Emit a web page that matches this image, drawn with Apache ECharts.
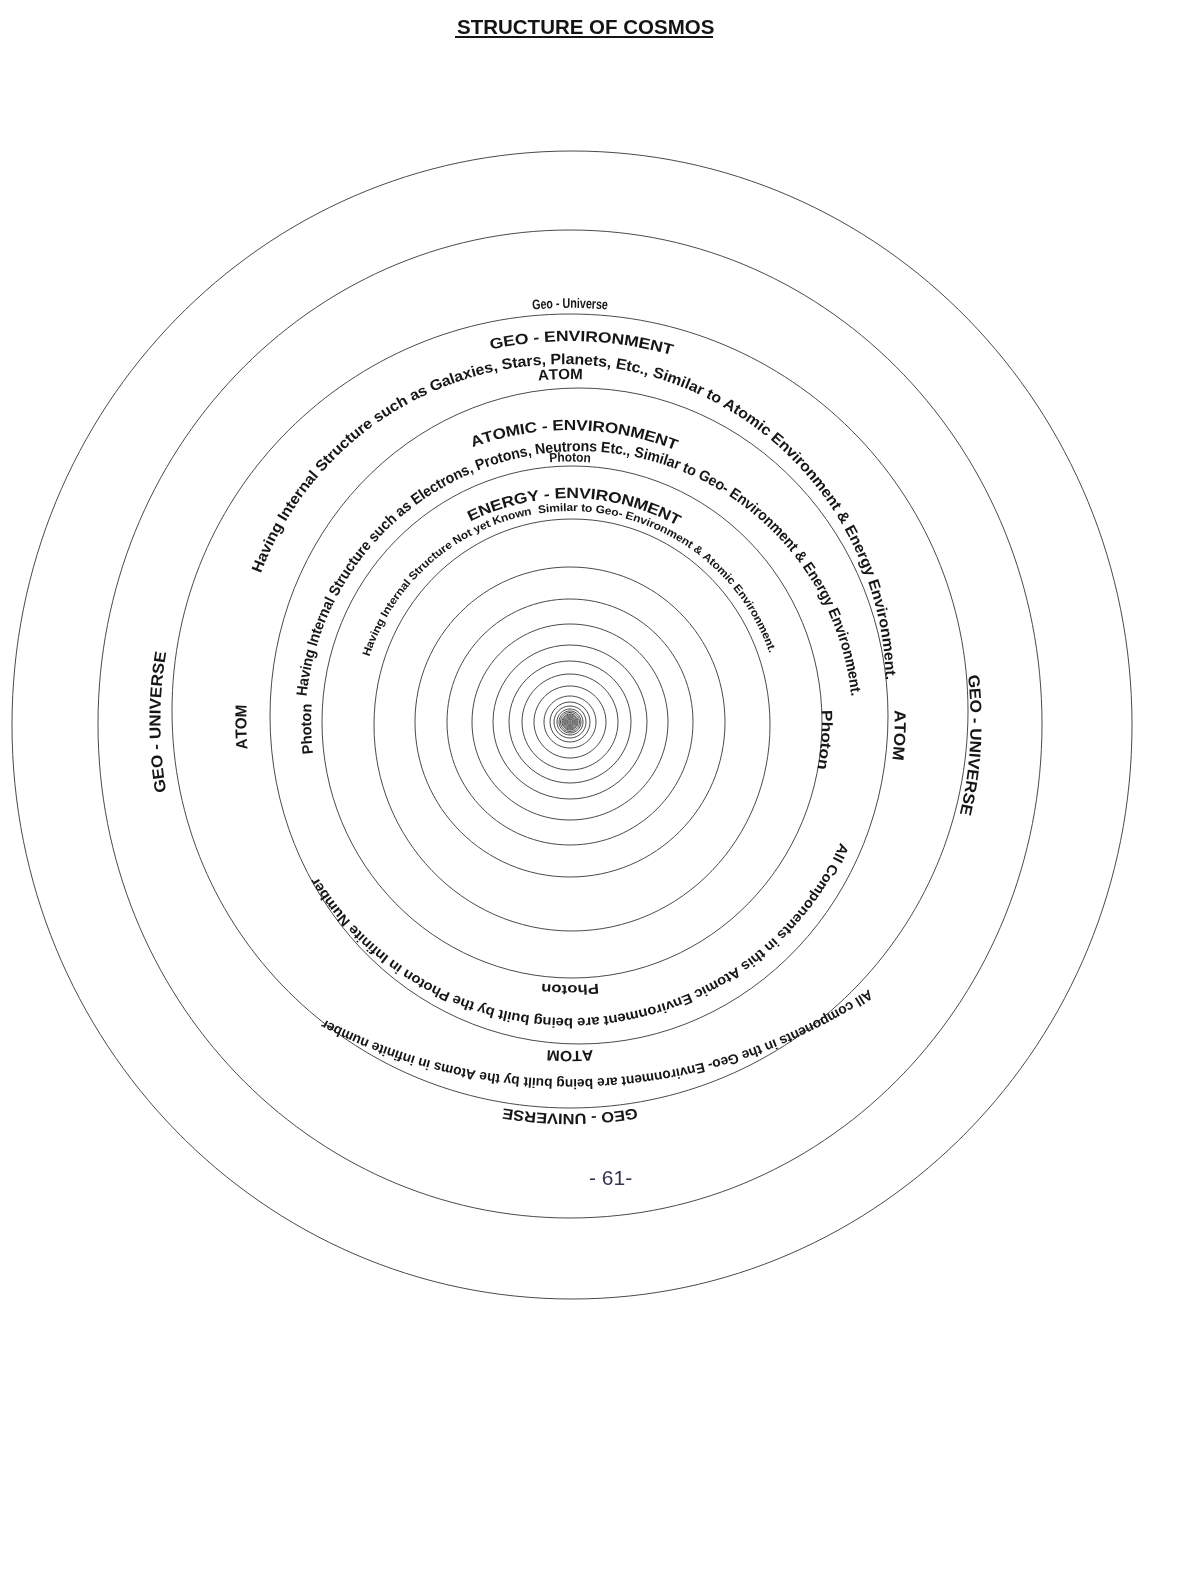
<!DOCTYPE html>
<html><head><meta charset="utf-8">
<script src="https://cdn.jsdelivr.net/npm/echarts@6/dist/echarts.min.js"></script>
<style>html,body{margin:0;padding:0;background:#fff}#c{width:1185px;height:1578px}</style>
</head><body><div id="c"></div>
<script>
// ---------- DATA ----------
// Rings (outer -> inner): radii and small centre offsets, in page pixels relative to the centre
const ringRx = [560, 472, 398, 309, 250, 198, 155, 123, 98, 77, 61, 48, 36, 26, 20, 16, 13, 11, 9.5, 8, 7, 6, 5, 4, 3, 2, 1];
const ringRy = [574, 494, 397, 328, 256, 206, 155, 123, 98, 77, 61, 48, 36, 26, 20, 16, 13, 11, 9.5, 8, 7, 6, 5, 4, 3, 2, 1];
const ringOx = [2, 0, 0, 9, 2, 2, 0, 0, 0, 0, 0, 0, 0, 0, 0, 0, 0, 0, 0, 0, 0, 0, 0, 0, 0, 0, 0];
const ringOy = [3, 2, -11, -6, 0, 3, 0, 0, 0, 0, 0, 0, 0, 0, 0, 0, 0, 0, 0, 0, 0, 0, 0, 0, 0, 0, 0];

// Curved labels: text, radius, start/end angle (deg, clockwise from top), arc-centre offset
const labelTexts = [
  "Geo - Universe",
  "GEO - ENVIRONMENT",
  "Having Internal Structure such as Galaxies, Stars, Planets, Etc., Similar to Atomic Environment & Energy Environment.",
  "ATOM",
  "ATOMIC - ENVIRONMENT",
  "Having Internal Structure such as Electrons, Protons, Neutrons Etc., Similar to Geo- Environment & Energy Environment.",
  "Photon",
  "ENERGY - ENVIRONMENT",
  "Having Internal Structure Not yet Known  Similar to Geo- Environment & Atomic Environment.",
  "GEO - UNIVERSE",
  "GEO - UNIVERSE",
  "GEO - UNIVERSE",
  "ATOM",
  "ATOM",
  "ATOM",
  "Photon",
  "Photon",
  "Photon",
  "All Components in this Atomic Environment are being built by the Photon in Infinite Number",
  "All components in the Geo- Environment are being built by the Atoms in infinite number"
];
const labelR  = [418, 385, 327, 347, 292, 278, 264, 228, 214, 414, 405, 396, 328, 329, 333, 263, 256, 267, 300, 542];
const labelA0 = [-5.2, -12, -69.4, -5.3, -19.8, -84, -4.5, -26.4, -72, -99.8, 83.3, 170.2, -94.8, 87.9, 176, -97, 87.3, 173.8, 114, 146.4];
const labelA1 = [5.2, 15.5, 88.8, 2.1, 21.5, 84, 4.5, 28.7, 71, -80.2, 103.3, 189.8, -87, 96.7, 184, -86, 100.7, 186.2, 238.5, 207.3];
const labelOx = [0, 0, -7, 0, 0, 9, 0, 0, 0, 0, 0, 0, 0, 0, 0, 0, 0, 0, 0, 1];
const labelOy = [0, 0, -35, 0, -4, 3, 0, 0, 0, 0, 0, 0, 0, 0, 0, 0, 0, 0, 0, -181];
const labelSize = [14, 15, 15, 15, 15, 15, 13, 15, 11, 16, 16, 15, 16, 16, 15, 15, 15, 14, 14, 14];

const titleText = "STRUCTURE OF COSMOS";
const pageText = "- 61-";

// ---------- RENDER ----------
const FONT = "'Liberation Sans',Arial,sans-serif";
const measureCtx = document.createElement('canvas').getContext('2d');

function renderRing(params, api) {
  const c = api.coord([api.value(0), api.value(1)]);
  const s = api.size([api.value(2), api.value(3)]);
  return {
    type: 'ellipse',
    shape: { cx: c[0], cy: c[1], rx: Math.abs(s[0]), ry: Math.abs(s[1]) },
    style: { fill: 'none', stroke: '#4a4a4a', lineWidth: 1 }
  };
}

function renderLabel(params, api) {
  const i = params.dataIndex;
  const o = api.coord([api.value(0), api.value(1)]);
  const u = api.size([1, 1]).map(Math.abs);
  const size = labelSize[i];
  measureCtx.font = 'bold ' + size + 'px ' + FONT;
  const chars = Array.from(labelTexts[i]);
  const w = chars.map(ch => measureCtx.measureText(ch).width);
  const total = w.reduce((a, b) => a + b, 0);
  const a0 = labelA0[i] * Math.PI / 180, a1 = labelA1[i] * Math.PI / 180;
  const r = labelR[i];
  const arcLen = (a1 - a0) * r * u[0];
  const sx = arcLen / total;
  let acc = 0;
  const children = chars.map((ch, k) => {
    const t = (acc + w[k] / 2) / total; acc += w[k];
    const a = a0 + (a1 - a0) * t;
    return {
      type: 'text',
      x: o[0] + r * Math.sin(a) * u[0],
      y: o[1] - r * Math.cos(a) * u[1],
      rotation: -a,
      scaleX: sx,
      style: { text: ch, fontSize: size, fontWeight: 'bold', fontFamily: FONT, fill: '#161616', align: 'center', verticalAlign: 'middle' }
    };
  });
  return { type: 'group', children };
}

const chart = echarts.init(document.getElementById('c'), null, { renderer: 'canvas' });
chart.setOption({
  backgroundColor: '#ffffff',
  animation: false,
  title: [
    { text: titleText, left: 452, top: 13, textStyle: { fontSize: 20.5, fontWeight: 'bold', fontFamily: FONT, color: '#141414' } },
    { text: pageText, left: 584, top: 1164, textStyle: { fontSize: 21, fontWeight: 'normal', fontFamily: FONT, color: '#3a3350' } }
  ],
  graphic: [
    { type: 'line', shape: { x1: 455, y1: 37, x2: 713, y2: 37 }, style: { stroke: '#141414', lineWidth: 2 } }
  ],
  grid: { left: 0, right: 0, top: 0, bottom: 0, containLabel: false },
  xAxis: { type: 'value', min: -570, max: 615, show: false },
  yAxis: { type: 'value', min: -722, max: 856, inverse: true, show: false },
  series: [
    {
      type: 'custom', renderItem: renderRing, clip: false,
      encode: { x: 0, y: 1 },
      data: ringRx.map((rx, i) => [ringOx[i], ringOy[i], rx, ringRy[i]])
    },
    {
      type: 'custom', renderItem: renderLabel, clip: false,
      encode: { x: 0, y: 1 },
      data: labelTexts.map((t, i) => [labelOx[i], labelOy[i]])
    }
  ]
});
</script></body></html>
